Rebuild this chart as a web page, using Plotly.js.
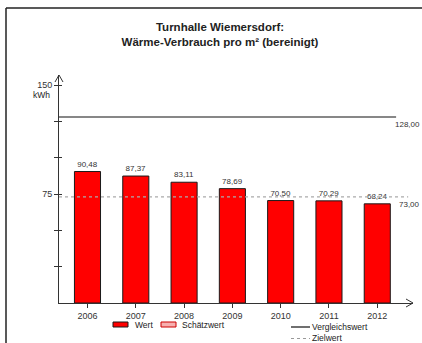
<!DOCTYPE html>
<html>
<head>
<meta charset="utf-8">
<script src="https://cdn.plot.ly/plotly-3.0.1.min.js"></script>
<style>html,body{margin:0;padding:0;background:#fff;}#chart{width:422px;height:343px;}</style>
</head>
<body>
<div id="chart"></div>
<script>
// ---- data ----
const years = [2006, 2007, 2008, 2009, 2010, 2011, 2012];
const wert = [90.48, 87.37, 83.11, 78.69, 70.50, 70.29, 68.24];
const schaetzwert = [null, null, null, null, null, null, null];
const vergleichswert = 128.00;
const zielwert = 73.00;
const yTickVals = [25, 50, 75, 100, 125, 150];
const yTickText = ['', '', '75', '', '', '150'];
const titleText = 'Turnhalle Wiemersdorf:<br>Wärme-Verbrauch pro m² (bereinigt)';
const unitText = 'kWh';
const legendNames = ['Wert', 'Schätzwert', 'Vergleichswert', 'Zielwert'];

// ---- layout geometry ----
const W = 422, H = 343;
const M = {l: 59, r: 9, t: 75, b: 40};
const PW = W - M.l - M.r, PH = H - M.t - M.b;
const X = px => (px - M.l) / PW;
const Y = py => (H - M.b - py) / PH;
const FONT = 'Liberation Sans, Arial, sans-serif';
const fmt = v => v.toFixed(2).replace('.', ',');

const xRange = [years[0] - 0.59, years[years.length - 1] + 0.74];
const yRange = [0, 156.9];

const traces = [
  {
    type: 'bar', x: years, y: wert, name: legendNames[0], width: 0.54,
    marker: {color: '#ff0000', line: {color: '#1a1a1a', width: 1}},
    texttemplate: '%{y:.2f}', textposition: 'outside',
    textfont: {family: FONT, size: 8, color: '#333'},
    showlegend: false, hoverinfo: 'skip'
  },
  {
    type: 'bar', x: years, y: schaetzwert, name: legendNames[1], width: 0.54,
    marker: {color: '#ffffff', line: {color: '#cc0000', width: 1},
             pattern: {shape: '.', fgcolor: '#ff0000', bgcolor: '#ffffff'}},
    showlegend: false, hoverinfo: 'skip'
  },
  {
    type: 'scatter', mode: 'lines', name: legendNames[2], yaxis: 'y2',
    x: [xRange[0], years[years.length - 1] + 0.39],
    y: [vergleichswert, vergleichswert],
    line: {color: '#111', width: 1.2}, showlegend: false, hoverinfo: 'skip'
  },
  {
    type: 'scatter', mode: 'lines', name: legendNames[3],
    x: [xRange[0], years[years.length - 1] + 0.64],
    y: [zielwert, zielwert],
    line: {color: '#aaaaaa', width: 1.2, dash: 'dot'}, showlegend: false, hoverinfo: 'skip'
  }
];

const shapes = [
  // outer frame (top and left)
  {type: 'line', xref: 'paper', yref: 'paper', x0: X(6), x1: X(422), y0: Y(8), y1: Y(8), line: {color: '#222', width: 1.5}},
  {type: 'line', xref: 'paper', yref: 'paper', x0: X(6), x1: X(6), y0: Y(8), y1: Y(343), line: {color: '#222', width: 1.5}},
  // axis arrow heads
  {type: 'path', xref: 'paper', yref: 'paper', xsizemode: 'pixel', ysizemode: 'pixel', xanchor: 1, yanchor: 0,
   path: 'M-7,4L0,0L-7,-4', line: {color: '#333', width: 1}},
  {type: 'path', xref: 'paper', yref: 'paper', xsizemode: 'pixel', ysizemode: 'pixel', xanchor: 0, yanchor: 1,
   path: 'M-4,-7L0,0L4,-7', line: {color: '#333', width: 1}},
  // legend symbols
  {type: 'rect', xref: 'paper', yref: 'paper', x0: X(113), x1: X(128), y0: Y(322), y1: Y(327),
   fillcolor: '#ff0000', line: {color: '#1a1a1a', width: 1}},
  {type: 'rect', xref: 'paper', yref: 'paper', x0: X(161), x1: X(176), y0: Y(322), y1: Y(327),
   fillcolor: '#f7b0b0', line: {color: '#cc0000', width: 1}},
  {type: 'line', xref: 'paper', yref: 'paper', x0: X(291), x1: X(310), y0: Y(327), y1: Y(327),
   line: {color: '#111', width: 1.2}},
  {type: 'line', xref: 'paper', yref: 'paper', x0: X(291), x1: X(310), y0: Y(338.5), y1: Y(338.5),
   line: {color: '#999', width: 1, dash: 'dot'}}
];

const annFont = {family: FONT, size: 8.5, color: '#222'};
const annotations = [
  {xref: 'paper', yref: 'paper', x: X(52), y: Y(95), xanchor: 'right', yanchor: 'middle', text: unitText, showarrow: false, font: annFont},
  {xref: 'paper', yref: 'y', x: X(421.5), y: vergleichswert, xanchor: 'right', yanchor: 'top', yshift: -1,
   text: fmt(vergleichswert), showarrow: false, font: {family: FONT, size: 8, color: '#333'}},
  {xref: 'paper', yref: 'y', x: X(421.5), y: zielwert, xanchor: 'right', yanchor: 'top', yshift: -1,
   text: fmt(zielwert), showarrow: false, font: {family: FONT, size: 8, color: '#333'}},
  {xref: 'paper', yref: 'paper', x: X(133), y: Y(324.5), xanchor: 'left', yanchor: 'middle', text: legendNames[0], showarrow: false, font: annFont},
  {xref: 'paper', yref: 'paper', x: X(180), y: Y(324.5), xanchor: 'left', yanchor: 'middle', text: legendNames[1], showarrow: false, font: annFont},
  {xref: 'paper', yref: 'paper', x: X(310), y: Y(326.5), xanchor: 'left', yanchor: 'middle', text: legendNames[2], showarrow: false, font: annFont},
  {xref: 'paper', yref: 'paper', x: X(310), y: Y(338), xanchor: 'left', yanchor: 'middle', text: legendNames[3], showarrow: false, font: annFont}
];

const layout = {
  width: W, height: H,
  margin: M,
  paper_bgcolor: '#fff', plot_bgcolor: 'rgba(0,0,0,0)',
  separators: ',.',
  showlegend: false,
  barmode: 'overlay',
  font: {family: FONT, size: 9, color: '#333'},
  title: {text: titleText, font: {family: FONT, size: 11.5, color: '#222', weight: 'bold'},
          xref: 'container', yref: 'container', x: 220 / W, xanchor: 'center', y: 1 - 31 / H, yanchor: 'middle',
          pad: {t: 0, b: 0, l: 0, r: 0}},
  xaxis: {range: xRange, tickvals: years, ticktext: years.map(String), showgrid: false, zeroline: false,
          showline: true, linecolor: '#333', linewidth: 1, ticks: 'outside', ticklen: 4, tickcolor: '#333',
          tickfont: {family: FONT, size: 9, color: '#333'}, fixedrange: true},
  yaxis: {range: yRange, tickvals: yTickVals, ticktext: yTickText, showgrid: false, zeroline: false,
          showline: true, linecolor: '#333', linewidth: 1, ticks: 'outside', ticklen: 4, tickcolor: '#333',
          tickfont: {family: FONT, size: 9, color: '#333'}, fixedrange: true},
  yaxis2: {range: yRange, overlaying: 'y', side: 'left', anchor: 'x', tickvals: yTickVals, showticklabels: false,
           showgrid: false, zeroline: false, showline: false, ticks: 'inside', ticklen: 3, tickcolor: '#333', fixedrange: true},
  shapes: shapes,
  annotations: annotations
};

Plotly.newPlot('chart', traces, layout, {displayModeBar: false, staticPlot: true});
</script>
</body>
</html>
